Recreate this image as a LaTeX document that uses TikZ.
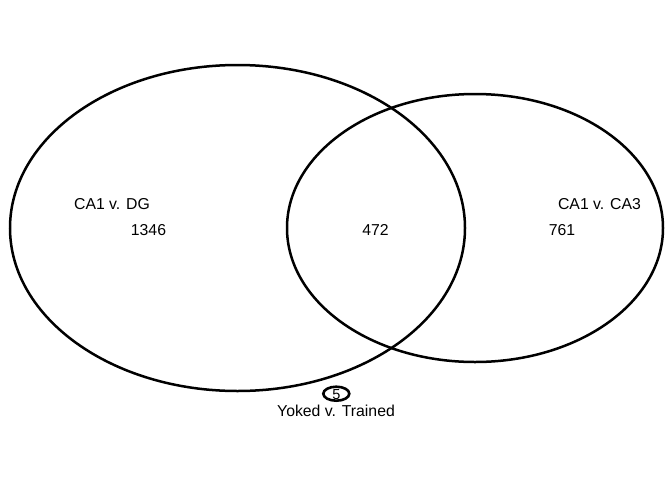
\documentclass[tikz,border=0pt]{standalone}
\usepackage{fontspec}
\setmainfont{Liberation Sans}
\begin{document}
\begin{tikzpicture}[x=1pt,y=-1pt,
  venn/.style={line width=2.5pt},
  lbl/.style={font=\fontsize{15.8}{18}\selectfont,inner sep=0pt,anchor=base}]
\useasboundingbox (0,0) rectangle (672,480);
\draw [venn] (237.5,228) ellipse [x radius=227.5, y radius=163];
\draw [venn] (475,228) ellipse [x radius=188, y radius=134];
\draw [line width=2.6pt] (336.3,393.7) ellipse [x radius=13, y radius=7];
\node [lbl] (dgname) at (112,209.5) {CA1 v. DG};
\node [lbl] (dgonly) at (148.5,235.5) {1346};
\node [lbl] (both) at (375.5,235.5) {472};
\node [lbl] (ca3only) at (562,235.5) {761};
\node [lbl] (ca3name) at (599.5,209.5) {CA1 v. CA3};
\node [lbl, font=\fontsize{14.5}{17}\selectfont] (yoked) at (336.3,399) {5};
\node [lbl] (yokedname) at (336,416) {Yoked v. Trained};
\end{tikzpicture}
\end{document}
